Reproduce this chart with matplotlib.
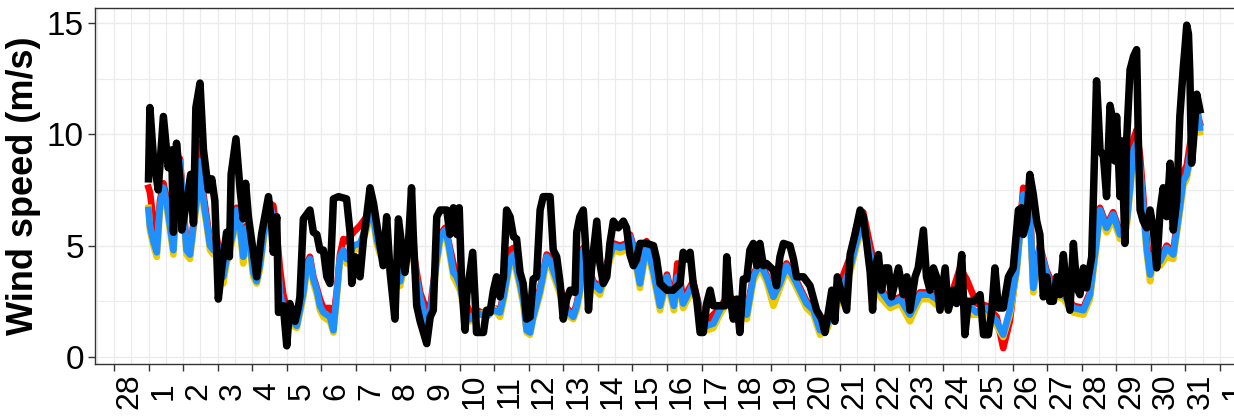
import matplotlib
matplotlib.use("Agg")
import matplotlib.pyplot as plt
from matplotlib.ticker import MultipleLocator

# x axis: day of month (0 = 28 Feb, 1..31 = March, 32 = 1 Apr)
tick_days = list(range(0, 33))
tick_labels = ["28"] + [str(d) for d in range(1, 32)] + ["1"]

# model series share one time axis (days)
model_days = [
    1.00, 1.04, 1.14, 1.24, 1.33, 1.43, 1.53, 1.62, 1.72, 1.81, 1.91,
    2.00, 2.10, 2.20, 2.30, 2.39, 2.49, 2.59, 2.68, 2.78, 2.88, 2.97,
    3.07, 3.16, 3.26, 3.45, 3.55, 3.64, 3.74, 3.84, 3.93,
    4.03, 4.13, 4.22, 4.32, 4.42, 4.51, 4.61, 4.71, 4.80, 4.90,
    5.00, 5.09, 5.29, 5.48, 5.58, 5.67, 5.77, 5.87, 5.96,
    6.06, 6.25, 6.35, 6.45, 6.54, 6.64, 6.73, 6.93,
    7.12, 7.31, 7.41, 7.51, 7.60, 7.70, 7.99,
    8.18, 8.28, 8.37, 8.52, 8.66, 8.76, 8.86, 8.95,
    9.05, 9.15, 9.34, 9.44, 9.58, 9.68, 9.82, 9.92,
    10.01, 10.16, 10.30, 10.49, 10.78, 10.98,
    11.17, 11.27, 11.46, 11.56, 11.65, 11.75, 11.85, 11.94,
    12.04, 12.13, 12.33, 12.52, 12.62, 12.71, 12.91,
    13.10, 13.29, 13.39, 13.48, 13.58, 13.68, 13.87,
    14.06, 14.26, 14.45, 14.64, 14.83, 14.93,
    15.03, 15.22, 15.41, 15.60, 15.80,
    16.00, 16.20, 16.30, 16.47, 16.76, 16.96,
    17.15, 17.34, 17.53, 17.73, 17.92,
    18.11, 18.31, 18.50, 18.69, 18.88,
    19.08, 19.27, 19.46, 19.66, 19.85,
    20.04, 20.24, 20.43, 20.62, 20.72,
    21.01, 21.30, 21.49, 21.68, 21.88,
    22.17, 22.46, 22.75,
    23.03, 23.32, 23.61, 23.90,
    24.19, 24.48, 24.67, 24.96,
    25.25, 25.54, 25.73, 25.92,
    26.12, 26.31, 26.50, 26.60, 26.79, 26.98,
    27.18, 27.47, 27.76,
    28.05, 28.24, 28.43, 28.53, 28.72, 28.91,
    29.11, 29.30, 29.40, 29.50, 29.59, 29.69, 29.88, 29.98,
    30.08, 30.27, 30.46, 30.65, 30.84, 30.94,
    31.04, 31.13, 31.23, 31.33, 31.42,
]

red_speed = [
    7.6, 7.4, 6.2, 5.0, 7.0, 7.8, 7.1, 6.1, 5.0, 7.8, 8.9,
    7.0, 5.0, 4.7, 6.0, 7.3, 9.6, 7.3, 6.3, 5.2, 5.0, 5.4,
    4.5, 3.7, 4.5, 5.7, 6.7, 6.1, 4.6, 5.9, 5.3,
    3.9, 3.5, 4.2, 5.5, 6.6, 6.9, 6.8, 5.6, 4.0, 2.8,
    2.2, 1.8, 1.5, 3.0, 4.2, 4.5, 3.6, 3.1, 2.6,
    2.2, 2.2, 1.7, 3.0, 4.6, 5.3, 5.2, 5.6,
    5.9, 6.3, 6.9, 6.5, 5.4, 4.9, 4.3,
    3.6, 3.5, 4.1, 4.9, 4.8, 3.8, 2.9, 2.5,
    2.2, 2.2, 4.5, 5.5, 5.8, 5.2, 4.2, 3.7,
    3.3, 2.5, 2.0, 2.1, 1.9, 2.2,
    2.1, 2.8, 4.8, 4.9, 4.1, 3.4, 2.6, 1.4,
    1.3, 2.0, 3.1, 4.6, 4.5, 4.3, 3.1,
    2.2, 1.9, 2.4, 3.1, 4.9, 4.2, 3.4,
    3.1, 4.2, 5.1, 5.0, 5.1, 5.5,
    5.0, 3.4, 5.2, 4.0, 2.4,
    3.7, 2.5, 4.2, 2.6, 3.4, 2.1,
    1.6, 1.9, 2.2, 2.7, 2.6,
    2.2, 2.0, 3.7, 4.3, 3.7,
    2.8, 3.4, 4.2, 3.7, 3.1,
    2.5, 2.2, 1.3, 1.5, 1.9,
    3.3, 4.5, 5.9, 6.5, 5.0,
    3.1, 2.5, 2.7,
    2.0, 2.9, 2.9, 2.6,
    2.6, 4.0, 3.5, 2.4,
    2.3, 1.8, 0.4, 1.6,
    4.1, 7.6, 6.9, 3.3, 5.0, 3.9,
    3.2, 2.9, 2.3,
    2.2, 2.9, 5.3, 6.7, 5.9, 6.5,
    5.6, 6.1, 7.8, 9.8, 10.2, 9.0, 5.3, 3.9,
    4.7, 4.4, 5.0, 4.7, 7.1, 8.3,
    8.6, 9.5, 10.4, 11.0, 10.5,
]

yellow_speed = [
    6.7, 5.7, 5.0, 4.5, 6.6, 7.4, 6.7, 5.7, 4.6, 7.4, 8.6,
    6.6, 4.6, 4.4, 5.7, 6.8, 8.6, 6.8, 5.9, 4.8, 4.6, 5.0,
    4.2, 3.3, 4.2, 5.4, 6.4, 5.8, 4.2, 5.6, 5.0,
    3.6, 3.3, 3.9, 5.1, 6.3, 6.6, 6.1, 4.9, 2.7, 2.0,
    1.8, 1.5, 1.3, 2.7, 3.9, 4.2, 3.3, 2.8, 2.1,
    1.8, 1.6, 1.1, 2.7, 4.3, 4.6, 4.2, 4.8,
    4.9, 5.7, 6.3, 6.1, 5.1, 4.6, 4.0,
    3.3, 3.2, 3.8, 4.6, 4.4, 3.3, 2.5, 1.9,
    1.4, 1.8, 4.2, 5.2, 5.5, 4.9, 3.6, 3.3,
    3.0, 1.9, 1.6, 1.9, 2.0, 2.2,
    1.8, 2.5, 4.2, 4.4, 3.8, 3.1, 2.3, 1.1,
    1.0, 1.7, 2.8, 4.3, 4.1, 3.7, 2.8,
    1.9, 1.7, 2.1, 2.8, 4.6, 3.9, 3.1,
    2.8, 3.9, 4.8, 4.7, 4.8, 5.2,
    4.7, 3.1, 4.9, 3.7, 2.1,
    3.4, 2.1, 3.4, 2.2, 3.1, 1.8,
    1.2, 1.3, 1.9, 2.4, 2.2,
    1.9, 1.7, 3.4, 4.0, 3.4,
    2.3, 3.1, 3.9, 3.4, 2.8,
    2.2, 1.9, 1.0, 1.2, 1.6,
    2.6, 3.8, 5.0, 5.9, 4.4,
    2.7, 2.2, 2.4,
    1.6, 2.6, 2.6, 2.2,
    2.3, 3.4, 1.9, 1.9,
    2.0, 1.4, 0.9, 1.9,
    3.8, 7.1, 6.5, 2.9, 4.7, 3.6,
    2.8, 2.6, 2.0,
    1.9, 2.6, 5.0, 6.4, 5.6, 6.2,
    5.3, 5.8, 7.4, 9.1, 9.4, 8.3, 4.7, 3.4,
    4.4, 4.1, 4.5, 4.4, 6.5, 7.7,
    8.0, 8.8, 10.6, 11.2, 10.1,
]

blue_speed = [
    6.6, 5.9, 5.2, 4.7, 6.8, 7.6, 6.9, 5.9, 4.8, 7.6, 8.8,
    6.8, 4.8, 4.6, 5.9, 7.0, 8.8, 7.0, 6.1, 5.0, 4.8, 5.2,
    4.4, 3.6, 4.4, 5.6, 6.6, 6.0, 4.5, 5.8, 5.2,
    3.8, 3.4, 4.1, 5.3, 6.5, 6.8, 6.3, 5.1, 2.9, 2.2,
    2.0, 1.7, 1.4, 2.9, 4.1, 4.4, 3.5, 3.0, 2.3,
    2.0, 1.8, 1.2, 2.9, 4.5, 4.8, 4.4, 5.0,
    5.1, 5.9, 6.5, 6.3, 5.3, 4.8, 4.2,
    3.5, 3.4, 4.0, 4.8, 4.6, 3.5, 2.7, 2.1,
    1.5, 2.0, 4.4, 5.4, 5.7, 5.1, 3.8, 3.6,
    3.2, 2.1, 1.7, 2.0, 1.8, 2.1,
    2.0, 2.7, 4.4, 4.6, 4.0, 3.3, 2.5, 1.2,
    1.1, 1.8, 3.0, 4.5, 4.3, 3.9, 3.0,
    2.1, 1.8, 2.3, 3.0, 4.8, 4.1, 3.3,
    3.0, 4.1, 5.0, 4.9, 5.0, 5.4,
    4.9, 3.3, 5.1, 3.9, 2.3,
    3.6, 2.3, 3.6, 2.4, 3.3, 2.0,
    1.4, 1.5, 2.1, 2.6, 2.4,
    2.1, 1.9, 3.6, 4.2, 3.6,
    2.7, 3.3, 4.1, 3.6, 3.0,
    2.4, 2.1, 1.2, 1.4, 1.8,
    2.8, 4.0, 5.2, 6.1, 4.6,
    3.0, 2.4, 2.6,
    1.9, 2.8, 2.8, 2.5,
    2.5, 3.1, 2.4, 2.0,
    2.2, 1.6, 1.0, 2.1,
    4.0, 7.3, 6.7, 3.1, 4.9, 3.8,
    3.0, 2.8, 2.2,
    2.1, 2.8, 5.2, 6.6, 5.8, 6.4,
    5.5, 6.0, 7.6, 9.3, 9.6, 8.5, 4.9, 3.7,
    4.6, 4.3, 4.9, 4.6, 6.7, 7.9,
    8.2, 9.0, 10.8, 11.4, 10.3,
]

# observations (black), own time axis
obs_days = [
    1.00, 1.04, 1.14, 1.28, 1.43, 1.57, 1.67, 1.72, 1.81, 1.91, 1.96,
    2.11, 2.22, 2.30, 2.37, 2.49, 2.59, 2.73, 2.83, 2.92,
    3.02, 3.12, 3.26, 3.34, 3.39, 3.53, 3.65, 3.74, 3.81, 3.89, 3.96,
    4.13, 4.27, 4.47, 4.56, 4.61, 4.71, 4.76, 4.90,
    5.00, 5.09, 5.24, 5.33, 5.38, 5.48, 5.67, 5.77, 5.87, 5.96,
    6.06, 6.16, 6.25, 6.35, 6.50, 6.73, 6.83, 6.88, 6.98,
    7.12, 7.22, 7.31, 7.41, 7.51, 7.60, 7.79, 7.89, 7.99,
    8.13, 8.23, 8.32, 8.42, 8.52, 8.61, 8.66, 8.76, 8.86,
    9.05, 9.15, 9.24, 9.34, 9.44, 9.63, 9.72, 9.82, 9.92, 9.99,
    10.06, 10.16, 10.21, 10.38, 10.45, 10.49, 10.69, 10.78, 10.88, 10.98,
    11.07, 11.17, 11.27, 11.36, 11.46, 11.56, 11.65, 11.75, 11.84, 11.94,
    12.04, 12.13, 12.23, 12.33, 12.42, 12.62, 12.71, 12.81, 12.91,
    13.00, 13.10, 13.20, 13.34, 13.39, 13.48, 13.58, 13.68, 13.73, 13.82, 13.97,
    14.06, 14.16, 14.26, 14.35, 14.45, 14.59, 14.74, 14.83, 14.93,
    15.03, 15.12, 15.22, 15.41, 15.61, 15.70, 15.80,
    16.00, 16.18, 16.38, 16.47, 16.57, 16.67, 16.76, 16.86, 16.96,
    17.05, 17.15, 17.25, 17.34, 17.53, 17.68, 17.73, 17.82, 17.92,
    18.02, 18.11, 18.21, 18.31, 18.40, 18.50, 18.60, 18.69, 18.79, 18.88,
    19.08, 19.17, 19.27, 19.37, 19.56, 19.66, 19.75, 19.95,
    20.14, 20.33, 20.48, 20.57, 20.67, 20.77, 20.86, 20.93,
    21.06, 21.20, 21.30, 21.44, 21.59, 21.68, 21.78, 21.88, 21.95,
    22.02, 22.12, 22.21, 22.31, 22.41, 22.50, 22.70, 22.84, 22.94,
    23.03, 23.18, 23.27, 23.42, 23.51, 23.61, 23.71, 23.80, 23.90,
    24.05, 24.14, 24.29, 24.38, 24.53, 24.62, 24.72, 24.87,
    25.06, 25.16, 25.30, 25.40, 25.49, 25.59, 25.73, 25.88,
    26.02, 26.17, 26.26, 26.31, 26.41, 26.50, 26.60, 26.70, 26.79, 26.89, 26.99,
    27.08, 27.18, 27.28, 27.37, 27.47, 27.57, 27.66, 27.76, 27.86, 27.95,
    28.05, 28.14, 28.29, 28.34, 28.43, 28.48, 28.53, 28.63, 28.72, 28.82, 28.87, 28.96,
    29.01, 29.11, 29.16, 29.25, 29.30, 29.40, 29.50, 29.59, 29.64, 29.69, 29.78, 29.88, 29.98,
    30.07, 30.17, 30.27, 30.36, 30.46, 30.56, 30.65, 30.75, 30.84, 30.94, 30.99,
    31.04, 31.09, 31.13, 31.18, 31.23, 31.33, 31.42,
]

obs_speed = [
    8.0, 11.2, 9.0, 7.5, 10.8, 8.5, 9.3, 5.6, 9.6, 8.0, 5.7,
    7.0, 8.2, 6.0, 11.2, 12.3, 9.3, 7.5, 8.0, 7.0,
    2.6, 4.0, 5.6, 4.5, 8.2, 9.8, 7.5, 6.2, 7.8, 6.3, 5.5,
    3.6, 5.5, 7.2, 6.0, 4.7, 6.3, 2.0, 2.3,
    0.5, 2.4, 1.6, 2.2, 2.7, 6.2, 6.6, 5.6, 5.5, 4.8,
    4.8, 3.6, 3.3, 7.1, 7.2, 7.1, 5.6, 3.3, 4.5,
    3.6, 5.3, 6.3, 7.6, 6.9, 6.0, 4.1, 6.3, 3.8,
    1.7, 6.2, 5.1, 3.8, 5.1, 7.6, 5.5, 2.3, 1.6,
    0.6, 1.8, 2.1, 6.3, 6.6, 6.6, 5.5, 6.7, 5.5, 6.7,
    3.3, 1.2, 2.8, 4.7, 2.6, 1.1, 1.1, 2.1, 2.0, 3.0,
    3.6, 2.7, 3.6, 6.6, 6.3, 5.4, 5.3, 3.8, 3.3, 1.7,
    1.8, 3.5, 3.6, 6.6, 7.2, 7.2, 4.8, 4.5, 3.3,
    1.7, 2.6, 3.0, 2.9, 5.6, 6.3, 6.6, 4.2, 2.1, 4.0, 6.1,
    4.2, 3.3, 3.6, 5.1, 6.1, 5.8, 6.1, 5.8, 4.6,
    4.1, 4.4, 5.1, 5.1, 5.0, 4.4, 3.3,
    3.0, 3.0, 3.3, 4.7, 4.4, 4.7, 3.3, 2.6, 1.1,
    1.1, 2.4, 3.0, 2.3, 2.3, 2.3, 4.5, 2.8, 1.7,
    2.6, 1.1, 3.5, 3.5, 4.8, 5.1, 4.1, 5.1, 4.1, 4.2,
    3.9, 3.2, 4.5, 5.1, 5.0, 4.4, 3.6, 3.6,
    3.2, 2.1, 1.7, 1.1, 2.0, 3.0, 1.6, 3.6,
    2.8, 2.1, 4.6, 5.5, 6.6, 6.3, 5.1, 3.8, 2.1,
    4.0, 4.6, 3.0, 4.0, 4.0, 2.7, 4.0, 2.8, 3.6,
    2.1, 3.6, 4.0, 5.7, 3.6, 3.0, 4.0, 3.6, 2.1,
    4.0, 2.1, 3.0, 2.4, 4.6, 1.0, 2.5, 2.5,
    2.8, 1.0, 1.0, 2.1, 4.0, 2.2, 2.2, 3.6,
    4.0, 6.6, 6.7, 5.5, 6.1, 8.2, 7.3, 6.1, 5.5, 2.7, 3.6,
    2.5, 2.5, 3.6, 2.8, 4.6, 2.8, 2.1, 5.1, 3.1, 2.8,
    4.0, 3.1, 4.5, 7.2, 12.4, 10.9, 9.3, 9.0, 7.2, 11.3, 10.9, 8.8,
    10.8, 7.2, 9.7, 5.1, 9.7, 12.9, 13.5, 13.8, 9.7, 6.6, 6.1, 5.8, 6.6,
    5.8, 4.0, 6.6, 7.6, 6.3, 8.7, 5.7, 7.0, 10.8, 13.0, 13.9,
    14.9, 14.5, 12.7, 8.7, 9.6, 11.8, 11.1,
]

yticks = [0, 5, 10, 15]

grid_col = "#EBEBEB"
frame_col = "#333333"

fig = plt.figure(figsize=(12.34, 4.19), dpi=100)
# the panel runs past the right edge of the picture, as in the reference crop
ax = fig.add_axes([0.0770, 0.1313, 0.9382, 0.8496])

ax.plot(model_days, red_speed, color="#FF0000", lw=4.8, solid_joinstyle="round", zorder=3)
ax.plot(model_days, yellow_speed, color="#EEC900", lw=4.8, solid_joinstyle="round", zorder=4)
ax.plot(model_days, blue_speed, color="#1E90FF", lw=4.8, solid_joinstyle="round", zorder=5)
ax.plot(obs_days, obs_speed, color="black", lw=5.4, solid_joinstyle="round", zorder=6)

ax.set_xlim(-0.548, 32.95)
ax.set_ylim(-0.314, 15.67)

ax.set_xticks(tick_days)
ax.set_xticklabels(tick_labels, rotation=90, ha="left", va="center", fontsize=23,
                   family="Liberation Sans")
ax.xaxis.set_minor_locator(MultipleLocator(0.5))
ax.set_yticks(yticks)
ax.set_yticklabels([str(v) for v in yticks], fontsize=24, family="Liberation Sans")
ax.yaxis.set_minor_locator(MultipleLocator(2.5))

ax.tick_params(axis="x", which="major", length=5, width=1, color=frame_col, pad=14.5)
ax.tick_params(axis="y", which="major", length=5, width=1, color=frame_col, pad=3)
ax.tick_params(which="minor", length=0)

ax.grid(which="major", color=grid_col, lw=1.0)
ax.grid(which="minor", color=grid_col, lw=0.8)
ax.set_axisbelow(True)

for side in ax.spines.values():
    side.set_color(frame_col)
    side.set_linewidth(1.0)

ax.set_ylabel("Wind speed (m/s)", fontsize=26, fontweight="bold",
              family="Liberation Sans", va="center")
ax.yaxis.set_label_coords(-0.0622, 0.5)

fig.savefig("out.png", dpi=100)
